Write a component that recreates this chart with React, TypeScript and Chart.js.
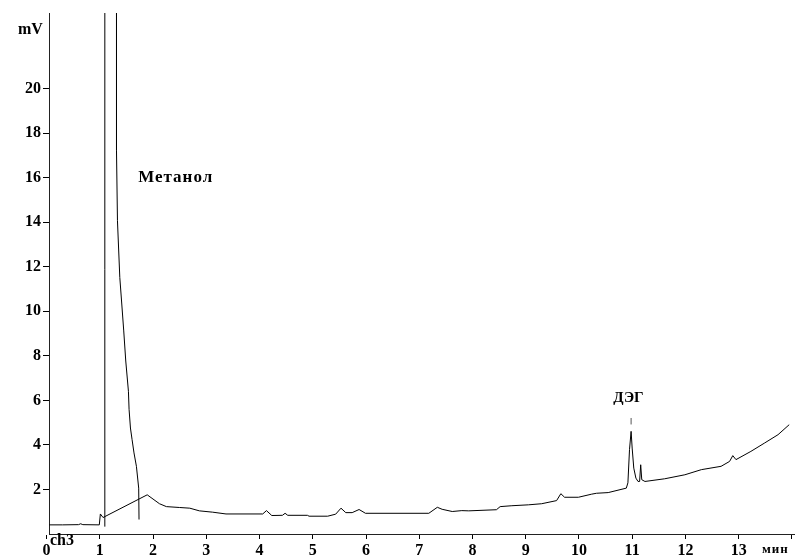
import React, { useEffect, useRef } from 'react';
import { Chart, registerables } from 'chart.js';

Chart.register(...registerables);

// Chromatogram baseline trace (time in minutes, signal in mV)
const baseTime = [
  0.05, 0.3, 0.6, 0.64, 0.68, 0.99, 1.01, 1.06, 1.89, 2.12, 2.25, 2.5, 2.69, 2.87, 3.12, 3.37,
  4.06, 4.13, 4.23, 4.43, 4.48, 4.53, 4.9, 4.93, 5.28, 5.43, 5.53, 5.62, 5.74, 5.87, 5.99,
  7.18, 7.34, 7.43, 7.62, 7.8, 7.93, 8.45, 8.52, 8.74, 9.05, 9.3, 9.58, 9.66, 9.73, 9.99,
  10.24, 10.33, 10.55, 10.89, 10.92, 10.95, 10.98, 11.0, 11.03, 11.07, 11.11, 11.14, 11.16,
  11.18, 11.24, 11.61, 11.99, 12.3, 12.67, 12.83, 12.89, 12.95, 13.23, 13.49, 13.74, 13.95,
];
const baseSignal = [
  0.41, 0.41, 0.42, 0.46, 0.42, 0.41, 0.9, 0.74, 1.76, 1.36, 1.23, 1.19, 1.16, 1.04, 0.98, 0.9,
  0.9, 1.05, 0.83, 0.84, 0.93, 0.84, 0.84, 0.8, 0.8, 0.89, 1.16, 0.96, 0.96, 1.1, 0.93,
  0.93, 1.2, 1.11, 1.01, 1.05, 1.04, 1.09, 1.23, 1.27, 1.31, 1.36, 1.5, 1.81, 1.65, 1.65,
  1.79, 1.83, 1.86, 2.06, 2.3, 3.79, 4.61, 3.86, 2.96, 2.51, 2.36, 2.36, 3.11,
  2.44, 2.36, 2.48, 2.66, 2.89, 3.04, 3.26, 3.52, 3.34, 3.71, 4.09, 4.46, 4.91,
];

// Methanol peak: rising edge (off-scale) and decaying tail
const methanolTime = [
  1.094, 1.094, 1.2, 1.313, 1.313, 1.331, 1.375, 1.412, 1.449, 1.487, 1.537, 1.549, 1.575,
  1.605, 1.642, 1.687, 1.73, 1.736,
];
const methanolSignal = [
  0.33, 30, null, 30, 17.23, 14.07, 11.52, 10.33, 9.12, 7.77, 6.41, 5.6, 4.76,
  4.25, 3.64, 3.04, 2.06, 0.65,
];

// DEG peak marker dash
const degMarkTime = [10.98, 10.98];
const degMarkSignal = [4.92, 5.21];

const xTickValues = [0, 1, 2, 3, 4, 5, 6, 7, 8, 9, 10, 11, 12, 13, 14];
const xTickLabels = ['0', '1', '2', '3', '4', '5', '6', '7', '8', '9', '10', '11', '12', '13', ''];
const yTickValues = [2, 4, 6, 8, 10, 12, 14, 16, 18, 20];

const toPoints = (t: number[], s: (number | null)[]) => t.map((x, i) => ({ x, y: s[i] }));

const SERIF = '"Liberation Serif", "Times New Roman", serif';

const annotationPlugin = {
  id: 'annotations',
  afterDraw(chart: any) {
    const ctx = chart.ctx as CanvasRenderingContext2D;
    const xs = chart.scales.x;
    const ys = chart.scales.y;
    ctx.save();
    ctx.fillStyle = '#000';
    ctx.textBaseline = 'middle';
    ctx.textAlign = 'left';
    (ctx as any).letterSpacing = '1px';
    ctx.font = `bold 17px ${SERIF}`;
    ctx.fillText('Метанол', xs.getPixelForValue(1.72), ys.getPixelForValue(16.0));
    (ctx as any).letterSpacing = '0px';
    ctx.font = `bold 15px ${SERIF}`;
    ctx.textAlign = 'center';
    ctx.fillText('ДЭГ', xs.getPixelForValue(10.93), ys.getPixelForValue(6.1));
    ctx.textAlign = 'left';
    ctx.font = `bold 16px ${SERIF}`;
    ctx.fillText('mV', 18, 30);
    ctx.font = `bold 16px ${SERIF}`;
    ctx.fillText('ch3', 50, 541);
    (ctx as any).letterSpacing = '1px';
    ctx.font = `bold 13px ${SERIF}`;
    ctx.fillText('мин', 762, 550);
    ctx.restore();
  },
};

export default function App() {
  const ref = useRef<HTMLCanvasElement>(null);

  useEffect(() => {
    if (!ref.current) return;
    const chart = new Chart(ref.current, {
      type: 'scatter',
      data: {
        datasets: [
          {
            data: toPoints(baseTime, baseSignal),
            showLine: true,
            borderColor: '#000',
            borderWidth: 1,
            pointRadius: 0,
            tension: 0,
          },
          {
            data: toPoints(methanolTime, methanolSignal),
            showLine: true,
            borderColor: '#000',
            borderWidth: 1,
            pointRadius: 0,
            tension: 0,
            spanGaps: false,
          },
          {
            data: toPoints(degMarkTime, degMarkSignal),
            showLine: true,
            borderColor: '#555',
            borderWidth: 1,
            pointRadius: 0,
          },
        ],
      },
      options: {
        animation: false,
        responsive: true,
        maintainAspectRatio: false,
        layout: { padding: { top: 13, right: 2, left: 0, bottom: 0 } },
        plugins: {
          legend: { display: false },
          tooltip: { enabled: false },
        },
        scales: {
          x: {
            type: 'linear',
            min: 0.045,
            max: 14.04,
            afterBuildTicks: (s: any) => {
              s.ticks = xTickValues.map((v) => ({ value: v }));
            },
            afterFit: (s: any) => {
              s.height = 23;
            },
            ticks: {
              autoSkip: false,
              maxRotation: 0,
              padding: 2,
              color: '#000',
              font: { family: SERIF, weight: 'bold', size: 16 },
              callback: (v: any) => xTickLabels[xTickValues.indexOf(Number(v))] ?? '',
            },
            grid: {
              drawOnChartArea: false,
              drawTicks: true,
              tickLength: 5,
              color: '#000',
            },
            border: { display: true, color: '#222', width: 1 },
          },
          y: {
            type: 'linear',
            min: 0,
            max: 23.4,
            afterBuildTicks: (s: any) => {
              s.ticks = yTickValues.map((v) => ({ value: v }));
            },
            afterFit: (s: any) => {
              s.width = 49;
            },
            ticks: {
              autoSkip: false,
              padding: 2,
              color: '#000',
              font: { family: SERIF, weight: 'bold', size: 16 },
            },
            grid: {
              drawOnChartArea: false,
              drawTicks: true,
              tickLength: 6,
              color: '#000',
            },
            border: { display: true, color: '#222', width: 1 },
          },
        },
      },
      plugins: [annotationPlugin],
    });
    return () => chart.destroy();
  }, []);

  return (
    <div style={{ position: 'fixed', left: 0, top: 0, width: 796, height: 557, background: '#fff' }}>
      <canvas ref={ref} />
    </div>
  );
}
